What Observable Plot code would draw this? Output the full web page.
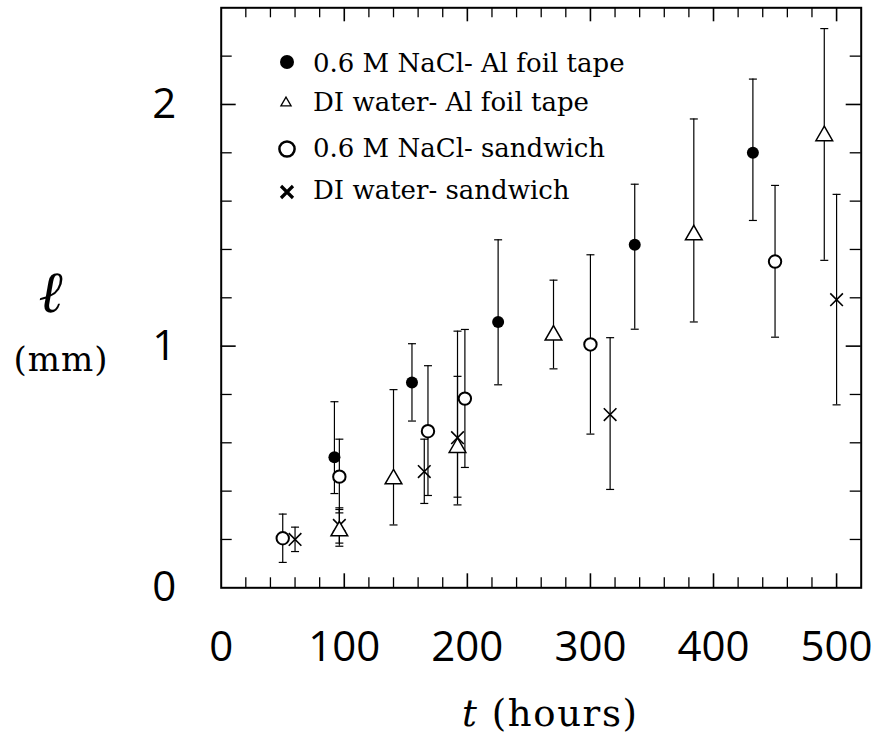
<!DOCTYPE html>
<html><head><meta charset="utf-8">
<script src="https://cdn.jsdelivr.net/npm/d3@7"></script>
<script src="https://cdn.jsdelivr.net/npm/@observablehq/plot@0.6"></script>
<style>
body{margin:0;background:#fff;}
#chart{position:relative;width:874px;height:746px;}
</style>
</head><body><div id="chart"></div>
<script>
// ---- data ----
const seriesNames = ["0.6 M NaCl- Al foil tape", "DI water- Al foil tape", "0.6 M NaCl- sandwich", "DI water- sandwich"];

const naclTapeT  = [92, 155, 225, 336, 432];
const naclTapeL  = [0.54, 0.85, 1.10, 1.42, 1.80];
const naclTapeLo = [0.39, 0.69, 0.84, 1.07, 1.52];
const naclTapeHi = [0.77, 1.01, 1.44, 1.67, 2.105];

const waterTapeT  = [96, 140, 192, 270, 384, 490];
const waterTapeL  = [0.235, 0.45, 0.58, 1.045, 1.46, 1.87];
const waterTapeLo = [0.172, 0.26, 0.343, 0.906, 1.10, 1.355];
const waterTapeHi = [0.324, 0.82, 1.062, 1.273, 1.94, 2.314];

const naclSandT  = [50, 96, 168, 198, 300, 450];
const naclSandL  = [0.205, 0.46, 0.648, 0.783, 1.007, 1.35];
const naclSandLo = [0.105, 0.31, 0.382, 0.498, 0.636, 1.037];
const naclSandHi = [0.305, 0.615, 0.919, 1.069, 1.378, 1.665];

const waterSandT  = [60, 96, 165, 192, 316, 500];
const waterSandL  = [0.20, 0.258, 0.481, 0.621, 0.717, 1.192];
const waterSandLo = [0.15, 0.185, 0.349, 0.375, 0.407, 0.757];
const waterSandHi = [0.251, 0.331, 0.615, 0.875, 1.035, 1.628];

const xTickLabels = [0, 100, 200, 300, 400, 500];
const yTickLabels = [0, 1, 2];
const xMajor = [100, 200, 300, 400, 500];
const xMinor = [20, 40, 60, 80, 120, 140, 160, 180, 220, 240, 260, 280, 320, 340, 360, 380, 420, 440, 460, 480];
const yMajor = [1, 2];
const yMinor = [0.2, 0.4, 0.6, 0.8, 1.2, 1.4, 1.6, 1.8, 2.2];

const xLabelItalic = "t";
const xLabelRest = " (hours)";
const yLabelSymbol = "ℓ";
const yLabelUnit = "(mm)";

// ---- build ----
function rows(name, t, l, lo, hi) {
  return t.map((ti, i) => ({series: name, t: ti, l: l[i], lo: lo[i], hi: hi[i]}));
}
const naclTape = rows(seriesNames[0], naclTapeT, naclTapeL, naclTapeLo, naclTapeHi);
const waterTape = rows(seriesNames[1], waterTapeT, waterTapeL, waterTapeLo, waterTapeHi);
const naclSand = rows(seriesNames[2], naclSandT, naclSandL, naclSandLo, naclSandHi);
const waterSand = rows(seriesNames[3], waterSandT, waterSandL, waterSandLo, waterSandHi);
const all = [...naclTape, ...waterTape, ...naclSand, ...waterSand];

const W = 874, H = 746, mL = 220.7, mR = 13.3, mT = 7.3, mB = 158.7;
const pw = W - mL - mR, ph = H - mT - mB;

const capSymbol = {draw(ctx) { ctx.moveTo(-4, 0); ctx.lineTo(4, 0); }};

const xMinLen = 10, xMajLen = 14, yMinLen = 11, yMajLen = 15;

const plot = Plot.plot({
  width: W, height: H,
  marginLeft: mL, marginRight: mR, marginTop: mT, marginBottom: mB,
  style: {fontFamily: "'Open Sans', sans-serif", background: "white", color: "black"},
  x: {domain: [0, 520]},
  y: {domain: [0, 2.4]},
  marks: [
    // inward ticks on all four sides
    Plot.tickX(xMinor, {x: d => d, insetTop: ph - xMinLen, strokeWidth: 1.3}),
    Plot.tickX(xMajor, {x: d => d, insetTop: ph - xMajLen, strokeWidth: 1.6}),
    Plot.tickX(xMinor, {x: d => d, insetBottom: ph - xMinLen, strokeWidth: 1.3}),
    Plot.tickX(xMajor, {x: d => d, insetBottom: ph - xMajLen, strokeWidth: 1.6}),
    Plot.tickY(yMinor, {y: d => d, insetRight: pw - yMinLen, strokeWidth: 1.3}),
    Plot.tickY(yMajor, {y: d => d, insetRight: pw - yMajLen, strokeWidth: 1.6}),
    Plot.tickY(yMinor, {y: d => d, insetLeft: pw - yMinLen, strokeWidth: 1.3}),
    Plot.tickY(yMajor, {y: d => d, insetLeft: pw - yMajLen, strokeWidth: 1.6}),
    Plot.frame({stroke: "black", strokeWidth: 2}),
    Plot.axisX(xTickLabels, {tickSize: 0, tickPadding: 43, fontSize: 42, tickFormat: d => String(d), label: null}),
    Plot.axisY(yTickLabels, {tickSize: 0, tickPadding: 45, fontSize: 42, tickFormat: d => String(d), label: null}),
    // error bars
    Plot.ruleX(all, {x: "t", y1: "lo", y2: "hi", stroke: "black", strokeWidth: 1.2}),
    Plot.dot(all, {x: "t", y: "lo", symbol: capSymbol, stroke: "black", strokeWidth: 1.2, r: 4, fill: "none"}),
    Plot.dot(all, {x: "t", y: "hi", symbol: capSymbol, stroke: "black", strokeWidth: 1.2, r: 4, fill: "none"}),
    // markers
    Plot.dot(waterSand, {x: "t", y: "l", symbol: "times", r: 5.8, stroke: "black", strokeWidth: 1.6}),
    Plot.dot(waterTape, {x: "t", y: "l", symbol: "triangle", r: 6.2, fill: "white", stroke: "black", strokeWidth: 1.5}),
    Plot.dot(naclSand, {x: "t", y: "l", symbol: "circle", r: 6.2, fill: "white", stroke: "black", strokeWidth: 2}),
    Plot.dot(naclTape, {x: "t", y: "l", symbol: "circle", r: 6, fill: "black", stroke: "none"})
  ]
});
document.getElementById("chart").appendChild(plot);

const svg = d3.select(plot);
const serif = "'DejaVu Serif', serif";

// axis titles
const xt = svg.append("text").attr("x", 462).attr("y", 726).attr("text-anchor", "start")
  .attr("font-family", serif).attr("font-size", 37).attr("letter-spacing", 1.6).attr("fill", "black");
xt.append("tspan").attr("font-style", "italic").text(xLabelItalic);
xt.append("tspan").text(xLabelRest);

svg.append("text").attr("x", 52).attr("y", 312).attr("text-anchor", "middle")
  .attr("font-family", serif).attr("font-style", "italic").attr("font-weight", "bold")
  .attr("font-size", 58).attr("fill", "black").text(yLabelSymbol);
svg.append("text").attr("x", 61).attr("y", 371).attr("text-anchor", "middle")
  .attr("font-family", serif).attr("font-size", 34).attr("letter-spacing", 1).attr("fill", "black").text(yLabelUnit);

// legend
const legendRows = [
  {name: seriesNames[0], kind: "filled", cy: 62, base: 72},
  {name: seriesNames[1], kind: "triangle", cy: 103, base: 111},
  {name: seriesNames[2], kind: "open", cy: 149, base: 157},
  {name: seriesNames[3], kind: "times", cy: 192, base: 199}
];
const lg = svg.append("g");
legendRows.forEach(r => {
  const sx = 287;
  if (r.kind === "filled") {
    lg.append("circle").attr("cx", sx).attr("cy", r.cy).attr("r", 7).attr("fill", "black");
  } else if (r.kind === "open") {
    lg.append("circle").attr("cx", sx).attr("cy", r.cy).attr("r", 7.6).attr("fill", "white").attr("stroke", "black").attr("stroke-width", 2.5);
  } else if (r.kind === "triangle") {
    lg.append("path").attr("transform", `translate(${sx - 1},${r.cy})`)
      .attr("d", d3.symbol(d3.symbolTriangle, 45)()).attr("fill", "white").attr("stroke", "black").attr("stroke-width", 1.3);
  } else {
    lg.append("path").attr("transform", `translate(${sx},${r.cy})`)
      .attr("d", "M-6,-6L6,6M-6,6L6,-6").attr("stroke", "black").attr("stroke-width", 3.2).attr("fill", "none");
  }
  lg.append("text").attr("x", 313).attr("y", r.base).attr("text-anchor", "start").attr("font-family", serif)
    .attr("font-size", 26).attr("fill", "black").text(r.name);
});
</script>
</body></html>
